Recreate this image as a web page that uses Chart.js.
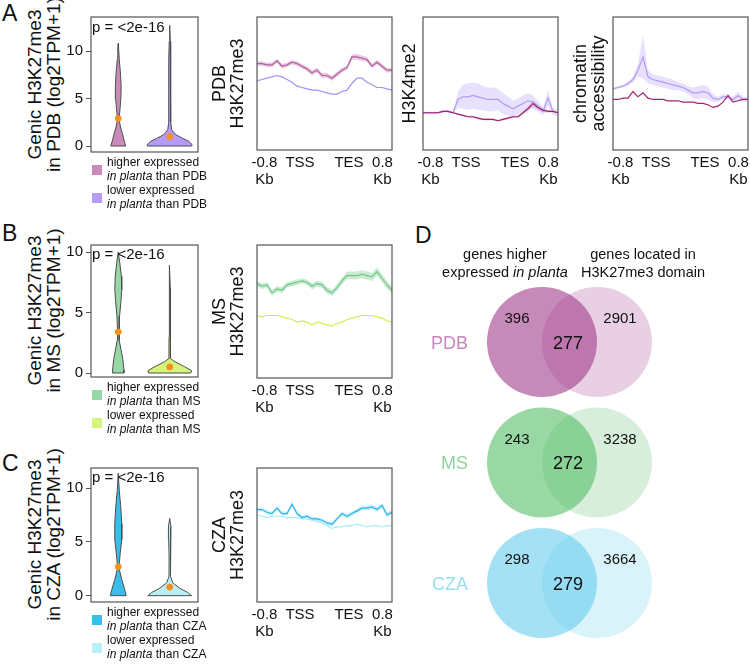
<!DOCTYPE html>
<html>
<head>
<meta charset="utf-8">
<title>H3K27me3 in planta</title>
<script src="https://cdn.jsdelivr.net/npm/chart.js@4.4.1/dist/chart.umd.min.js"></script>
<style>
  body { margin: 0; background: #fff; }
  #fig { position: relative; width: 750px; height: 664px; overflow: hidden; font-family: "Liberation Sans", Arial, sans-serif; color: #111; }
  #fig canvas { position: absolute; }
  .letter { position: absolute; font-size: 23px; line-height: 23px; }
  .ptext { position: absolute; left: 92px; font-size: 15px; line-height: 15px; white-space: nowrap; }
  .legend { position: absolute; left: 107px; font-size: 12px; line-height: 14px; white-space: nowrap; }
  .swatch { position: absolute; left: 92px; width: 10px; height: 10px; }
  .vhead { position: absolute; width: 170px; font-size: 14.5px; line-height: 18px; text-align: center; white-space: nowrap; }
  .ytitle { position: absolute; left: -56px; width: 200px; height: 37px; font-size: 19px; line-height: 18.5px; text-align: center; white-space: nowrap; transform: rotate(-90deg); }
</style>
</head>
<body>
<div id="fig">
  <div class="letter" style="left:2px;top:2px">A</div>
  <div class="letter" style="left:2px;top:222px">B</div>
  <div class="letter" style="left:2px;top:452px">C</div>
  <div class="letter" style="left:415px;top:224px">D</div>

  <div class="ytitle" style="top:66px">Genic H3K27me3<br>in PDB (log2TPM+1)</div>
  <div class="ytitle" style="top:292px">Genic H3K27me3<br>in MS (log2TPM+1)</div>
  <div class="ytitle" style="top:516px">Genic H3K27me3<br>in CZA (log2TPM+1)</div>

  <canvas id="violinPDB"></canvas>
  <canvas id="violinMS"></canvas>
  <canvas id="violinCZA"></canvas>
  <canvas id="profPDB"></canvas>
  <canvas id="profK4"></canvas>
  <canvas id="profATAC"></canvas>
  <canvas id="profMS"></canvas>
  <canvas id="profCZA"></canvas>
  <canvas id="venn"></canvas>

  <div class="ptext" style="top:19px">p = &lt;2e-16</div>
  <div class="ptext" style="top:246px">p = &lt;2e-16</div>
  <div class="ptext" style="top:469px">p = &lt;2e-16</div>

  <div class="swatch" style="top:165px;background:#c98cba"></div>
  <div class="swatch" style="top:193px;background:#b49cf7"></div>
  <div class="legend" style="top:155px">higher expressed<br><i>in planta</i> than PDB<br>lower expressed<br><i>in planta</i> than PDB</div>

  <div class="swatch" style="top:390px;background:#97d7a5"></div>
  <div class="swatch" style="top:418px;background:#d5f47c"></div>
  <div class="legend" style="top:380px">higher expressed<br><i>in planta</i> than MS<br>lower expressed<br><i>in planta</i> than MS</div>

  <div class="swatch" style="top:615px;background:#3bbde9"></div>
  <div class="swatch" style="top:643px;background:#b8f0f6"></div>
  <div class="legend" style="top:605px">higher expressed<br><i>in planta</i> than CZA<br>lower expressed<br><i>in planta</i> than CZA</div>

  <div class="vhead" style="left:420px;top:245px">genes higher<br>expressed <i>in planta</i></div>
  <div class="vhead" style="left:558px;top:245px">genes located in<br>H3K27me3 domain</div>
</div>

<script>
// ---- violins: levels (log2TPM+1) and half widths of each violin ----
var violinTicks = [0, 5, 10];

var pdbHighY = [0, 0.6, 1.3, 2.0, 2.7, 3.4, 4.9, 6.3, 7.7, 9.1, 10.5, 10.8];
var pdbHighW = [0.145, 0.112, 0.081, 0.043, 0.02, 0.026, 0.05, 0.056, 0.042, 0.02, 0.008, 0];
var pdbLowY = [0, 0.15, 0.5, 0.8, 1.2, 1.7, 2.5, 4, 6, 7.6, 9, 11, 12.7];
var pdbLowW = [0.426, 0.436, 0.368, 0.252, 0.116, 0.039, 0.019, 0.016, 0.019, 0.025, 0.016, 0.01, 0];

var msHighY = [0, 0.25, 1.1, 1.9, 2.7, 3.6, 4.7, 5.8, 6.9, 8.0, 9.1, 10.0];
var msHighW = [0.11, 0.11, 0.09, 0.055, 0.02, 0.016, 0.025, 0.05, 0.068, 0.06, 0.03, 0];
var msLowY = [0, 0.19, 0.52, 0.93, 1.2, 3, 5, 7, 8.9];
var msLowW = [0.41, 0.426, 0.29, 0.1, 0.015, 0.013, 0.013, 0.012, 0];

var czaHighY = [0, 0.56, 1.5, 2.4, 3.0, 4.0, 5.2, 6.7, 8.3, 9.8, 11.4];
var czaHighW = [0.155, 0.126, 0.068, 0.023, 0.02, 0.039, 0.068, 0.068, 0.048, 0.02, 0];
var czaLowY = [0, 0.3, 0.7, 1.2, 1.8, 3.6, 5.2, 6.4, 7.2];
var czaLowW = [0.426, 0.35, 0.19, 0.058, 0.014, 0.012, 0.02, 0.025, 0];

var medianHigh = [2.9, 3.4, 2.7];
var medianLow = [1.0, 0.5, 0.8];

// ---- profiles: 28 bins from -0.8 Kb through gene body to +0.8 Kb ----
var profileTickPos = [1.5, 8.6, 18.4, 25.1];
var profileTickText = [['-0.8', 'Kb'], 'TSS', 'TES', ['0.8', 'Kb']];

var pdbK27High = [65, 65, 64, 64, 67, 63, 64, 66, 65, 63, 61, 58, 60, 56, 56, 54, 57, 60, 62, 70, 70, 69, 68, 63, 66, 63, 60, 60];
var pdbK27HighSem = [1.6, 1.7, 1.6, 1.8, 1.7, 1.6, 1.6, 1.7, 1.8, 1.7, 1.8, 1.9, 1.8, 2.0, 1.9, 2.0, 1.9, 1.8, 1.8, 2.0, 2.1, 2.0, 1.9, 1.8, 1.8, 1.9, 1.7, 1.6];
var pdbK27Low = [52, 53, 54, 55, 56, 55, 53, 51, 48, 47, 46, 45, 45, 44, 43, 42, 42, 44, 45, 50, 54, 54, 51, 49, 47, 47, 46, 45];

var pdbK4High = [28, 28, 28, 28, 29, 29, 28, 27, 26, 25, 25, 24, 23, 23, 23, 22, 23, 24, 25, 25, 28, 31, 35, 32, 30, 29, 29, 28];
var pdbK4HighSem = [0.5, 0.5, 0.5, 0.5, 0.5, 0.5, 0.6, 0.6, 0.7, 0.7, 0.7, 0.8, 0.8, 0.8, 0.8, 0.8, 0.8, 0.9, 1, 1, 1.3, 1.8, 2.5, 2, 1.5, 1, 0.8, 0.6];
var pdbK4Low = [28, 28, 28, 28, 29, 29, 28, 38, 40, 40, 41, 40, 39, 38, 38, 38, 35, 33, 31, 33, 35, 37, 36, 33, 29, 39, 29, 28];
var pdbK4LowSem = [0.8, 0.8, 0.8, 0.8, 0.8, 0.9, 1.2, 6, 9, 10, 10, 10, 9, 9, 9, 8, 8, 7, 6, 6, 6, 6, 5, 4, 3, 6, 3, 2];

var pdbAtacHigh = [38, 38, 39, 39, 44, 40, 43, 39, 38, 38, 38, 37, 37, 37, 36, 36, 36, 35, 35, 34, 32, 33, 36, 41, 36, 37, 38, 38];
var pdbAtacLow = [46, 47, 48, 50, 53, 60, 70, 55, 53, 52, 51, 50, 49, 48, 47, 45, 43, 43, 44, 43, 39, 38, 40, 40, 38, 41, 38, 38];
var pdbAtacLowSem = [1, 1, 1, 1.5, 2, 5, 16, 5, 4, 4, 4, 4, 4, 3, 3, 3, 4, 5, 5, 5, 3, 2, 2, 2, 2, 3, 2, 2];

var msK27High = [71, 69, 70, 64, 67, 66, 70, 71, 72, 73, 72, 69, 71, 70, 66, 64, 68, 73, 77, 77, 77, 78, 77, 76, 80, 75, 70, 66];
var msK27HighSem = [2, 2, 2, 2.2, 2.2, 2, 2, 2, 2, 2, 2, 2.2, 2.2, 2.4, 2.4, 2.4, 2.4, 2.6, 2.8, 3, 3, 3, 3, 3, 3, 3, 2.8, 2.6];
var msK27Low = [47, 46, 47, 47, 47, 46, 45, 44, 42, 43, 42, 40, 42, 41, 40, 39, 41, 42, 44, 45, 46, 47, 47, 47, 46, 45, 43, 42];

var czaK27High = [69, 69, 67, 66, 70, 66, 66, 73, 66, 63, 64, 62, 62, 61, 59, 58, 62, 66, 64, 66, 68, 70, 70, 71, 69, 72, 65, 67];
var czaK27HighSem = [1.5, 1.5, 1.5, 1.6, 1.6, 1.5, 1.5, 1.8, 1.6, 1.5, 1.5, 1.5, 1.5, 1.5, 1.6, 1.6, 1.7, 1.8, 1.8, 1.8, 1.8, 1.8, 1.8, 1.8, 1.7, 1.8, 1.7, 1.6];
var czaK27Low = [65, 64, 63, 64, 64, 64, 63, 63, 63, 62, 62, 61, 60, 59, 57, 55, 56, 56, 57, 57, 58, 57, 56, 57, 57, 56, 57, 57];

// ---- venn counts ----
var vennRows = ['PDB', 'MS', 'CZA'];
var vennHigherOnly = [396, 243, 298];
var vennOverlap = [277, 272, 279];
var vennDomainOnly = [2901, 3238, 3664];

var FONT = "'Liberation Sans', Arial, sans-serif";
Chart.defaults.font.family = FONT;
Chart.defaults.color = '#111';
Chart.defaults.animation = false;
Chart.defaults.events = [];
Chart.defaults.plugins.legend.display = false;
Chart.defaults.plugins.tooltip.enabled = false;

var PAD = 3;

function placeCanvas(id, box, axisW, axisH) {
	var c = document.getElementById(id);
	var left = box[0] - axisW, top = box[1] - PAD;
	c.width = box[2] - left + PAD;
	c.height = box[3] - box[1] + 2 * PAD + axisH;
	c.style.left = left + 'px';
	c.style.top = top + 'px';
	return c;
}

var framePlugin = {
	id: 'frame',
	afterDatasetsDraw: function (chart) {
		var a = chart.chartArea, ctx = chart.ctx;
		ctx.save();
		ctx.strokeStyle = '#555';
		ctx.lineWidth = 1.2;
		ctx.strokeRect(a.left, a.top, a.right - a.left, a.bottom - a.top);
		ctx.restore();
	}
};

// ---------- violins ----------
function violinShape(center, ys, ws) {
	var pts = [];
	for (var i = 0; i < ys.length; i++) pts.push({x: center - ws[i], y: ys[i]});
	for (var j = ys.length - 1; j >= 0; j--) pts.push({x: center + ws[j], y: ys[j]});
	pts.push({x: center - ws[0], y: ys[0]});
	return pts;
}

function violinChart(id, box, yMin, yMax, high, low, med, cols) {
	var canvas = placeCanvas(id, box, 30, 0);
	return new Chart(canvas, {
		type: 'scatter',
		data: {
			datasets: [
				{ data: [{x: 1, y: med[0]}, {x: 2, y: med[1]}], pointRadius: 3, backgroundColor: '#f39020', borderColor: '#f39020' },
				{ data: violinShape(1, high[0], high[1]), showLine: true, fill: 'shape', backgroundColor: cols[0], borderColor: '#4d4d4d', borderWidth: 1, pointRadius: 0 },
				{ data: violinShape(2, low[0], low[1]), showLine: true, fill: 'shape', backgroundColor: cols[1], borderColor: '#4d4d4d', borderWidth: 1, pointRadius: 0 }
			]
		},
		options: {
			responsive: false, devicePixelRatio: 1,
			layout: { autoPadding: false, padding: { top: PAD, right: PAD, bottom: PAD, left: 0 } },
			elements: { line: { tension: 0 } },
			scales: {
				x: { type: 'linear', display: false, min: 0.47, max: 2.55 },
				y: {
					min: yMin, max: yMax,
					afterBuildTicks: function (s) { s.ticks = violinTicks.map(function (v) { return {value: v}; }); },
					afterFit: function (s) { s.width = 30; s.paddingTop = 0; s.paddingBottom = 0; },
					grid: { display: true, drawOnChartArea: false, drawTicks: true, tickLength: 5, color: '#555' },
					border: { display: false },
					ticks: { padding: 3, font: { size: 15 }, color: '#111' }
				}
			}
		},
		plugins: [framePlugin]
	});
}

violinChart('violinPDB', [91, 17, 198, 152], -0.63, 13.58,
	[pdbHighY, pdbHighW], [pdbLowY, pdbLowW], [medianHigh[0], medianLow[0]], ['#c98cba', '#b49cf7']);
violinChart('violinMS', [91, 245, 198, 377], -0.33, 10.58,
	[msHighY, msHighW], [msLowY, msLowW], [medianHigh[1], medianLow[1]], ['#97d7a5', '#d5f47c']);
violinChart('violinCZA', [91, 468, 198, 602], -0.59, 11.89,
	[czaHighY, czaHighW], [czaLowY, czaLowW], [medianHigh[2], medianLow[2]], ['#3bbde9', '#b8f0f6']);

// ---------- profiles ----------
function meanLine(mean, color) {
	return { data: mean.map(function (v, i) { return {x: i, y: v}; }), borderColor: color, borderWidth: 1.2, pointRadius: 0, fill: false };
}

function semBand(mean, sem, color) {
	var up = [], lo = [];
	for (var i = 0; i < mean.length; i++) {
		up.push({x: i, y: mean[i] + sem[i]});
		lo.push({x: i, y: mean[i] - sem[i]});
	}
	return [
		{ data: up, fill: '+1', backgroundColor: color, borderColor: 'rgba(0,0,0,0)', borderWidth: 0, pointRadius: 0 },
		{ data: lo, fill: false, borderColor: 'rgba(0,0,0,0)', borderWidth: 0, pointRadius: 0 }
	];
}

function profileChart(id, box, axisW, title, datasets) {
	var canvas = placeCanvas(id, box, axisW, 40);
	return new Chart(canvas, {
		type: 'line',
		data: { datasets: datasets },
		options: {
			responsive: false, devicePixelRatio: 1,
			layout: { autoPadding: false, padding: { top: PAD, right: PAD, bottom: PAD, left: 0 } },
			elements: { line: { tension: 0 } },
			scales: {
				x: {
					type: 'linear', min: 0, max: 27,
					afterBuildTicks: function (s) { s.ticks = profileTickPos.map(function (v) { return {value: v}; }); },
					afterFit: function (s) { s.height = 40; s.paddingLeft = 0; s.paddingRight = 0; },
					grid: { display: false, drawTicks: false },
					border: { display: false },
					ticks: {
						autoSkip: false, maxRotation: 0, padding: 5, color: '#111',
						font: { size: 15, lineHeight: 1.1 },
						callback: function (v, i) { return profileTickText[i]; }
					}
				},
				y: {
					min: 0, max: 100,
					afterFit: function (s) { s.width = axisW; s.paddingTop = 0; s.paddingBottom = 0; },
					grid: { display: false, drawTicks: false },
					border: { display: false },
					ticks: { display: false },
					title: { display: true, text: title, color: '#111', font: { size: 18, lineHeight: 1 }, padding: { top: 6, bottom: 0 } }
				}
			}
		},
		plugins: [framePlugin]
	});
}

profileChart('profPDB', [257, 17, 392, 150], 52, ['PDB', 'H3K27me3'],
	[meanLine(pdbK27High, '#b45f9c'), meanLine(pdbK27Low, '#a98df7')]
		.concat(semBand(pdbK27High, pdbK27HighSem, 'rgba(205,140,190,0.45)')));
profileChart('profK4', [423, 17, 558, 150], 28, 'H3K4me2',
	[meanLine(pdbK4High, '#a0236f'), meanLine(pdbK4Low, '#b49af5')]
		.concat(semBand(pdbK4High, pdbK4HighSem, 'rgba(200,120,170,0.35)'))
		.concat(semBand(pdbK4Low, pdbK4LowSem, 'rgba(190,170,248,0.35)')));
profileChart('profATAC', [613, 17, 748, 150], 47, ['chromatin', 'accessibility'],
	[meanLine(pdbAtacHigh, '#a0236f'), meanLine(pdbAtacLow, '#b49af5')]
		.concat(semBand(pdbAtacLow, pdbAtacLowSem, 'rgba(190,170,248,0.35)')));
profileChart('profMS', [257, 245, 392, 378], 52, ['MS', 'H3K27me3'],
	[meanLine(msK27High, '#6fc88a'), meanLine(msK27Low, '#cdf04e')]
		.concat(semBand(msK27High, msK27HighSem, 'rgba(150,215,165,0.5)')));
profileChart('profCZA', [257, 468, 392, 602], 52, ['CZA', 'H3K27me3'],
	[meanLine(czaK27High, '#29b6ea'), meanLine(czaK27Low, '#a6ecf7')]
		.concat(semBand(czaK27High, czaK27HighSem, 'rgba(120,210,240,0.35)')));

// ---------- venn ----------
var vennText = {
	id: 'vennText',
	afterDatasetsDraw: function (chart) {
		var ctx = chart.ctx, xs = chart.scales.x, ys = chart.scales.y;
		var labelColors = ['#c987bb', '#8fd49c', '#96def4'];
		ctx.save();
		ctx.textBaseline = 'middle';
		vennRows.forEach(function (name, i) {
			var yc = ys.getPixelForValue(i);
			ctx.font = '18px ' + FONT;
			ctx.fillStyle = labelColors[i];
			ctx.textAlign = 'right';
			ctx.fillText(name, xs.getPixelForValue(-1.345), yc + 2);
			ctx.fillStyle = '#111';
			ctx.textAlign = 'center';
			ctx.fillText(String(vennOverlap[i]), xs.getPixelForValue(0.473), yc + 2);
			ctx.font = '15px ' + FONT;
			ctx.fillText(String(vennHigherOnly[i]), xs.getPixelForValue(-0.455), ys.getPixelForValue(i - 0.2) + 1);
			ctx.fillText(String(vennDomainOnly[i]), xs.getPixelForValue(1.418), ys.getPixelForValue(i - 0.2) + 1);
		});
		ctx.restore();
	}
};

var vennCanvas = document.getElementById('venn');
vennCanvas.width = 350; vennCanvas.height = 390;
vennCanvas.style.left = '400px'; vennCanvas.style.top = '270px';
new Chart(vennCanvas, {
	type: 'bubble',
	data: {
		datasets: [
			{ data: vennRows.map(function (r, i) { return {x: 0, y: i}; }), radius: 55, borderWidth: 0,
			  backgroundColor: ['rgba(160,60,138,0.6)', 'rgba(85,190,103,0.6)', 'rgba(103,205,238,0.6)'], clip: false },
			{ data: vennRows.map(function (r, i) { return {x: 1, y: i}; }), radius: 55, borderWidth: 0,
			  backgroundColor: ['#e9cfe4', '#d7efda', '#d9f3fa'], clip: false }
		]
	},
	options: {
		responsive: false, devicePixelRatio: 1,
		layout: { autoPadding: false, padding: 0 },
		scales: {
			x: { type: 'linear', display: false, min: -2.5818, max: 3.7818 },
			y: { type: 'linear', display: false, reverse: true, min: -0.5975, max: 2.639 }
		}
	},
	plugins: [vennText]
});
</script>
</body>
</html>
